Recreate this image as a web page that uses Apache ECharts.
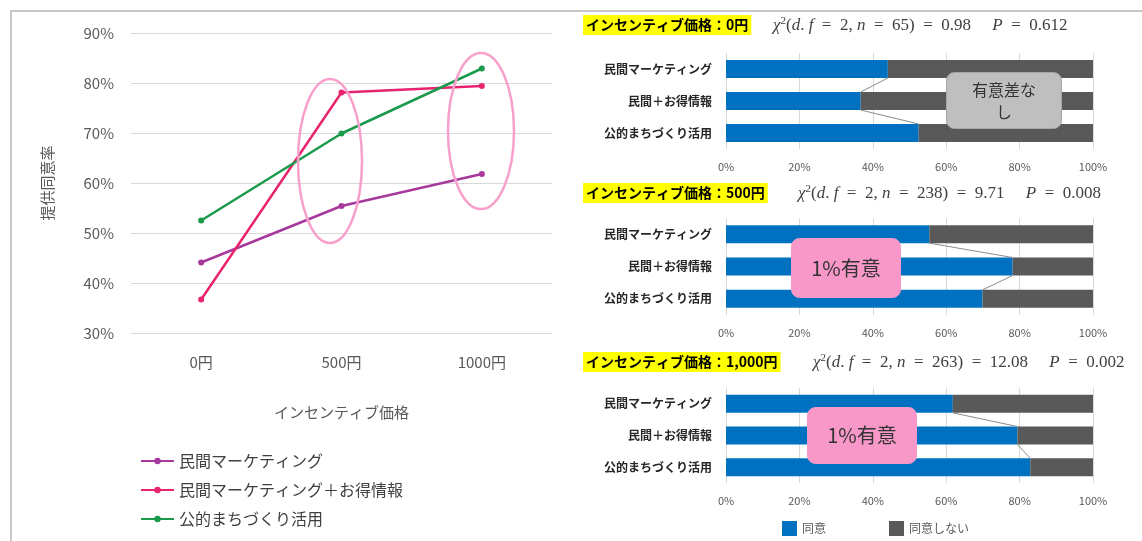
<!DOCTYPE html>
<html>
<head>
<meta charset="utf-8">
<script src="https://cdn.jsdelivr.net/npm/echarts@6/dist/echarts.min.js"></script>
<style>
  html, body { margin: 0; padding: 0; background: #fff; }
  #chart { width: 1142px; height: 541px; }
</style>
</head>
<body>
<div id="chart"></div>
<script>
// left line chart
const priceCats = ['0円', '500円', '1000円']
const lineNames = ['民間マーケティング', '民間マーケティング＋お得情報', '公的まちづくり活用']
const mktRate = [44.1, 55.4, 61.8]
const infoRate = [36.7, 78.1, 79.4]
const publicRate = [52.5, 69.9, 82.9]

// right stacked bars (同意しない share per group, by price)
const barCats = ['民間マーケティング', '民間＋お得情報', '公的まちづくり活用']
const mktNo = [55.9, 44.6, 38.2]
const infoNo = [63.3, 21.9, 20.6]
const publicNo = [47.5, 30.1, 17.1]

const headers = ['インセンティブ価格：0円', 'インセンティブ価格：500円', 'インセンティブ価格：1,000円']
const statN = ['65', '238', '263']
const statChi = ['0.98', '9.71', '12.08']
const statP = ['0.612', '0.008', '0.002']

const lineColors = ['#a8399c', '#e8246e', '#1c9a4c']
const FONT = '"Noto Sans CJK JP", "Noto Sans", sans-serif'
const SERIF = '"Liberation Serif", serif'

const barTops = [53, 218, 388]
const barHeights = [96, 97, 95]
const headerTops = [15, 183, 352]
const formulaLefts = [773, 798, 813]

const chart = echarts.init(document.getElementById('chart'))

// en spaces around "=" to mimic math spacing
const EQ = '\u2002=\u2002'
function formula(i) {
  return '{i|χ}{s|2}{n|(}{i|d}{n|. }{i|f}{n|' + EQ + '2, }{i|n}{n|' + EQ + statN[i] + ')' + EQ +
    statChi[i] + '     }{i|P}{n|' + EQ + statP[i] + '}'
}

const grids = [{ left: 131, right: 590, top: 33, bottom: 208 }]
const xAxes = [{
  gridIndex: 0,
  type: 'category',
  data: priceCats,
  axisLine: { show: false },
  axisTick: { show: false },
  axisLabel: { fontSize: 15, color: '#595959', margin: 22 },
  name: 'インセンティブ価格',
  nameLocation: 'middle',
  nameGap: 72,
  nameTextStyle: { fontSize: 15, color: '#595959' }
}]
const yAxes = [{
  gridIndex: 0,
  type: 'value',
  min: 30,
  max: 90,
  interval: 10,
  axisLabel: { formatter: '{value}%', fontSize: 15, color: '#595959', margin: 17 },
  splitLine: { lineStyle: { color: '#d9d9d9' } },
  name: '提供同意率',
  nameLocation: 'middle',
  nameGap: 76,
  nameTextStyle: { fontSize: 15, color: '#595959' }
}]

const series = [mktRate, infoRate, publicRate].map((d, k) => ({
  name: lineNames[k],
  type: 'line',
  xAxisIndex: 0,
  yAxisIndex: 0,
  data: d,
  color: lineColors[k],
  symbol: 'circle',
  symbolSize: 6,
  lineStyle: { width: 2.5 }
}))

const titles = []

for (let i = 0; i < 3; i++) {
  const g = i + 1
  const yes = [mktRate[i], infoRate[i], publicRate[i]]
  const no = [mktNo[i], infoNo[i], publicNo[i]]

  grids.push({ left: 726, right: 49, top: barTops[i], height: barHeights[i] })
  xAxes.push({
    gridIndex: g,
    type: 'value',
    min: 0,
    max: 100,
    interval: 20,
    axisLine: { show: false },
    axisTick: { show: false },
    axisLabel: { formatter: '{value}%', fontSize: 11, color: '#595959', margin: 12 },
    splitLine: { lineStyle: { color: '#d9d9d9' } }
  })
  yAxes.push({
    gridIndex: g,
    type: 'category',
    inverse: true,
    data: barCats,
    axisLine: { show: false },
    axisTick: { show: false },
    axisLabel: { fontSize: 12, fontWeight: 'bold', color: '#262626', margin: 14 }
  })

  series.push({
    name: '同意', type: 'bar', stack: 's' + i, xAxisIndex: g, yAxisIndex: g,
    data: yes, barWidth: 18, color: '#0070c0'
  })
  series.push({
    name: '同意しない', type: 'bar', stack: 's' + i, xAxisIndex: g, yAxisIndex: g,
    data: no, barWidth: 18, color: '#595959'
  })
  // series lines between the ends of the blue bars
  series.push({
    type: 'custom', xAxisIndex: g, yAxisIndex: g, z: 5, silent: true,
    encode: { x: [0, 2], y: [1, 3] },
    data: [[yes[0], 0, yes[1], 1], [yes[1], 1, yes[2], 2]],
    renderItem(params, api) {
      const a = api.coord([api.value(0), api.value(1)])
      const b = api.coord([api.value(2), api.value(3)])
      return {
        type: 'line',
        shape: { x1: a[0], y1: a[1] + 9, x2: b[0], y2: b[1] - 9 },
        style: { stroke: '#8c8c8c', lineWidth: 1 }
      }
    }
  })

  titles.push({
    text: headers[i],
    left: 583,
    top: headerTops[i],
    backgroundColor: '#ffff00',
    padding: [3, 3],
    textStyle: { fontSize: 14, fontWeight: 'bold', color: '#000', fontFamily: FONT }
  })
  titles.push({
    text: formula(i),
    left: formulaLefts[i],
    top: headerTops[i] + 1,
    padding: 0,
    textStyle: {
      fontWeight: 'normal',
      rich: {
        i: { fontFamily: SERIF, fontStyle: 'italic', fontWeight: 'normal', fontSize: 17, color: '#404040' },
        n: { fontFamily: SERIF, fontWeight: 'normal', fontSize: 17, color: '#404040' },
        s: { fontFamily: SERIF, fontWeight: 'normal', fontSize: 11, color: '#404040', verticalAlign: 'top', padding: [0, 0, 8, 0] }
      }
    }
  })
}

function noteBox(x, y, w, h, fill, stroke, text, size) {
  return {
    type: 'group', left: x, top: y, z: 100,
    children: [
      { type: 'rect', z: 100, shape: { width: w, height: h, r: 8 }, style: { fill, stroke, lineWidth: 1 } },
      {
        type: 'text', z: 101, x: w / 2, y: h / 2,
        style: { text, fontSize: size, fill: '#333', align: 'center', verticalAlign: 'middle', fontFamily: FONT, lineHeight: size + 6 }
      }
    ]
  }
}

const option = {
  animation: false,
  backgroundColor: '#fff',
  textStyle: { fontFamily: FONT },
  title: titles,
  grid: grids,
  xAxis: xAxes,
  yAxis: yAxes,
  legend: [{
    data: lineNames,
    orient: 'vertical',
    left: 140,
    top: 453,
    height: 90,
    padding: 0,
    itemWidth: 33,
    itemHeight: 8,
    itemGap: 13,
    textStyle: { fontSize: 16, color: '#404040' }
  }, {
    data: ['同意', '同意しない'],
    left: 782,
    top: 521,
    padding: 0,
    icon: 'rect',
    itemWidth: 15,
    itemHeight: 15,
    itemGap: 63,
    textStyle: { fontSize: 12, color: '#595959' }
  }],
  series,
  graphic: [
    {
      type: 'polyline', z: 100, silent: true,
      shape: { points: [[11, 541], [11, 11], [1142, 11]] },
      style: { stroke: '#c8c8c8', lineWidth: 2, fill: null }
    },
    {
      type: 'ellipse', z: 100, silent: true,
      shape: { cx: 330, cy: 161, rx: 32, ry: 82 },
      style: { stroke: '#f7a0cc', lineWidth: 2.5, fill: null }
    },
    {
      type: 'ellipse', z: 100, silent: true,
      shape: { cx: 481, cy: 131, rx: 33, ry: 78 },
      style: { stroke: '#f7a0cc', lineWidth: 2.5, fill: null }
    },
    noteBox(946, 72, 115, 56, '#bfbfbf', '#a6a6a6', '有意差な\nし', 16),
    noteBox(791, 238, 109, 59, '#f898c8', '#f898c8', '1%有意', 20),
    noteBox(807, 407, 109, 56, '#f898c8', '#f898c8', '1%有意', 20)
  ]
}

chart.setOption(option)
</script>
</body>
</html>
